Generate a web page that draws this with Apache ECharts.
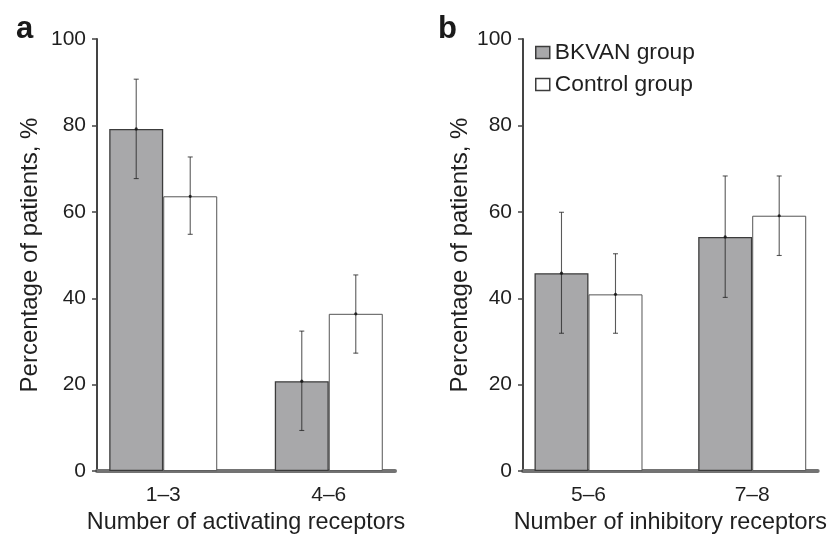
<!DOCTYPE html>
<html>
<head>
<meta charset="utf-8">
<script src="https://cdn.jsdelivr.net/npm/echarts@6/dist/echarts.min.js"></script>
<style>
  html, body { margin: 0; padding: 0; background: #fff; }
  #chart { width: 830px; height: 539px; }
</style>
</head>
<body>
<div id="chart"></div>
<script>
// Receptor-count groups for each panel
const categoriesA = ['1–3', '4–6'];
const categoriesB = ['5–6', '7–8'];

// Percentage of patients per group
const bkvanA = [79.2, 20.8];
const controlA = [63.6, 36.4];
const bkvanB = [45.8, 54.2];
const controlB = [40.9, 59.1];

// Error bar limits (low / high)
const bkvanALow = [67.7, 9.4];
const bkvanAHigh = [90.7, 32.4];
const controlALow = [54.8, 27.3];
const controlAHigh = [72.7, 45.4];
const bkvanBLow = [31.9, 40.2];
const bkvanBHigh = [59.9, 68.3];
const controlBLow = [31.9, 49.9];
const controlBHigh = [50.3, 68.3];

// Y axis range
const yMin = 0;
const yMax = 100;
const yStep = 20;

const FONT = '"Liberation Sans", Arial, Helvetica, sans-serif';
const BAR_W = 54;
const GRAY = '#a8a8aa';
const DARK = '#3c3c3c';
const TEXT = '#1f1f1f';

const chart = echarts.init(document.getElementById('chart'));

function xAxisFor(gridIndex, cats, title) {
  return {
    type: 'value',
    gridIndex: gridIndex,
    min: 0.6,
    max: 2.4,
    axisLine: { show: true, lineStyle: { color: '#737373', width: 4 } },
    axisTick: { show: false },
    splitLine: { show: false },
    axisLabel: {
      customValues: [1, 2],
      formatter: v => cats[Math.round(v) - 1],
      margin: 14,
      fontSize: 21,
      fontFamily: FONT,
      color: TEXT
    },
    name: title,
    nameLocation: 'middle',
    nameGap: 38,
    nameTextStyle: { fontSize: 23.4, fontFamily: FONT, color: TEXT }
  };
}

function yAxisFor(gridIndex, gap) {
  return {
    type: 'value',
    gridIndex: gridIndex,
    min: yMin,
    max: yMax,
    interval: yStep,
    axisLine: { show: true, lineStyle: { color: '#444', width: 2 } },
    axisTick: { show: true, inside: false, length: 5, lineStyle: { color: '#444', width: 1.5 } },
    splitLine: { show: false },
    axisLabel: { margin: 11, fontSize: 21, fontFamily: FONT, color: TEXT },
    name: 'Percentage of patients, %',
    nameLocation: 'middle',
    nameGap: gap,
    nameTextStyle: { fontSize: 24, fontFamily: FONT, color: TEXT }
  };
}

function barSeries(name, gridIndex, values, fill, border, bw) {
  return {
    type: 'bar',
    name: name,
    xAxisIndex: gridIndex,
    yAxisIndex: gridIndex,
    barWidth: BAR_W,
    barGap: '0%',
    data: values.map((v, i) => [i + 1, v]),
    itemStyle: { color: fill, borderColor: border, borderWidth: bw },
    emphasis: { disabled: true },
    silent: true,
    z: 2
  };
}

function errorSeries(gridIndex, values, lows, highs, side) {
  return {
    type: 'custom',
    name: 'err',
    xAxisIndex: gridIndex,
    yAxisIndex: gridIndex,
    silent: true,
    z: 5,
    encode: { x: 0, y: [1, 2] },
    data: values.map((v, i) => [i + 1, lows[i], highs[i], v]),
    renderItem: function (params, api) {
      const x = api.value(0);
      const pLo = api.coord([x, api.value(1)]);
      const pHi = api.coord([x, api.value(2)]);
      const pMid = api.coord([x, api.value(3)]);
      const cx = pLo[0] + side * BAR_W / 2;
      const style = { stroke: 'rgba(35,35,35,0.75)', lineWidth: 1.1 };
      return {
        type: 'group',
        children: [
          { type: 'line', shape: { x1: cx, y1: pLo[1], x2: cx, y2: pHi[1] }, style: style },
          { type: 'line', shape: { x1: cx - 2.5, y1: pLo[1], x2: cx + 2.5, y2: pLo[1] }, style: style },
          { type: 'line', shape: { x1: cx - 2.5, y1: pHi[1], x2: cx + 2.5, y2: pHi[1] }, style: style },
          { type: 'circle', shape: { cx: cx, cy: pMid[1], r: 1.6 }, style: { fill: 'rgba(20,20,20,0.85)' } }
        ]
      };
    }
  };
}

const option = {
  backgroundColor: '#fff',
  animation: false,
  title: [
    { text: 'a', left: 11, top: 9, textStyle: { fontSize: 31, fontWeight: 'bold', fontFamily: FONT, color: '#1a1a1a' } },
    { text: 'b', left: 433, top: 9, textStyle: { fontSize: 31, fontWeight: 'bold', fontFamily: FONT, color: '#1a1a1a' } }
  ],
  legend: {
    orient: 'vertical',
    left: 535,
    top: 41,
    padding: 0,
    itemWidth: 14,
    itemHeight: 12,
    itemGap: 9,
    selectedMode: false,
    textStyle: { fontSize: 22.8, fontFamily: FONT, color: TEXT },
    data: [
      { name: 'BKVAN group', icon: 'rect', itemStyle: { color: GRAY, borderColor: DARK, borderWidth: 1.5 } },
      { name: 'Control group', icon: 'rect', itemStyle: { color: '#fff', borderColor: DARK, borderWidth: 1.5 } }
    ]
  },
  grid: [
    { left: 97, right: 435, top: 39, bottom: 64, containLabel: false },
    { left: 523, right: 11, top: 39, bottom: 64, containLabel: false }
  ],
  xAxis: [
    xAxisFor(0, categoriesA, 'Number of activating receptors'),
    xAxisFor(1, categoriesB, 'Number of inhibitory receptors')
  ],
  yAxis: [yAxisFor(0, 55), yAxisFor(1, 51)],
  series: [
    barSeries('BKVAN group', 0, bkvanA, GRAY, DARK, 1.3),
    barSeries('Control group', 0, controlA, '#fff', '#555', 1),
    barSeries('BKVAN group', 1, bkvanB, GRAY, DARK, 1.3),
    barSeries('Control group', 1, controlB, '#fff', '#555', 1),
    errorSeries(0, bkvanA, bkvanALow, bkvanAHigh, -1),
    errorSeries(0, controlA, controlALow, controlAHigh, 1),
    errorSeries(1, bkvanB, bkvanBLow, bkvanBHigh, -1),
    errorSeries(1, controlB, controlBLow, controlBHigh, 1)
  ]
};

chart.setOption(option);
</script>
</body>
</html>
